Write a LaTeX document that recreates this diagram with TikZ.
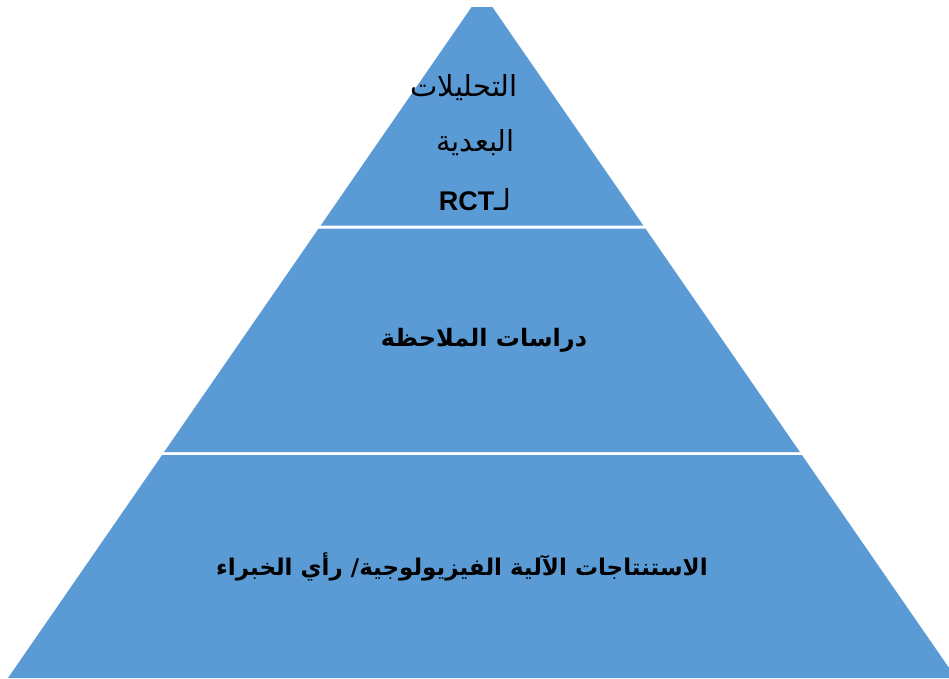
\documentclass[tikz,border=0pt]{standalone}
\usepackage{fontspec}
\TeXXeTstate=1
\newfontfamily\arabicfont[Script=Arabic]{DejaVu Sans}
\newfontfamily\latinfont{Liberation Sans}
\definecolor{tierblue}{HTML}{5B9BD5}
\tikzset{
  tier/.style={fill=tierblue, draw=none},
  label/.style={inner sep=0pt, text=black, font=\arabicfont\fontsize{29}{33}\selectfont},
  boldlabel/.style={inner sep=0pt, text=black, font=\arabicfont\bfseries\fontsize{24}{28}\selectfont}
}
\begin{document}
\begin{tikzpicture}[x=1pt,y=-1pt]
\useasboundingbox[fill=white] (0,0) rectangle (949,678);
\begin{scope}
\clip (0,7) rectangle (949,678);
\fill[tier] (482,-8) -- (643.3,225.5) -- (320.7,225.5) -- cycle;
\fill[tier] (318.6,228.5) -- (645.4,228.5) -- (799.9,452) -- (164.1,452) -- cycle;
\fill[tier] (162.1,455) -- (801.9,455) -- (956,678) -- (8,678) -- cycle;
\end{scope}
\node[label, anchor=east] (t1) at (518,88) {\beginR التحليلات\endR};
\node[label, anchor=east] (t2) at (515,143) {\beginR البعدية\endR};
\node[label, anchor=east] (t3) at (512,200) {\beginR لـ\beginL{\latinfont\bfseries\fontsize{27}{30}\selectfont RCT}\endL\endR};
\node[boldlabel] (m) at (484,340) {\beginR دراسات الملاحظة\endR};
\node[boldlabel, font=\arabicfont\bfseries\fontsize{23}{27}\selectfont] (b) at (462,567) {\beginR الاستنتاجات الآلية الفيزيولوجية/ رأي الخبراء\endR};
\end{tikzpicture}
\end{document}
